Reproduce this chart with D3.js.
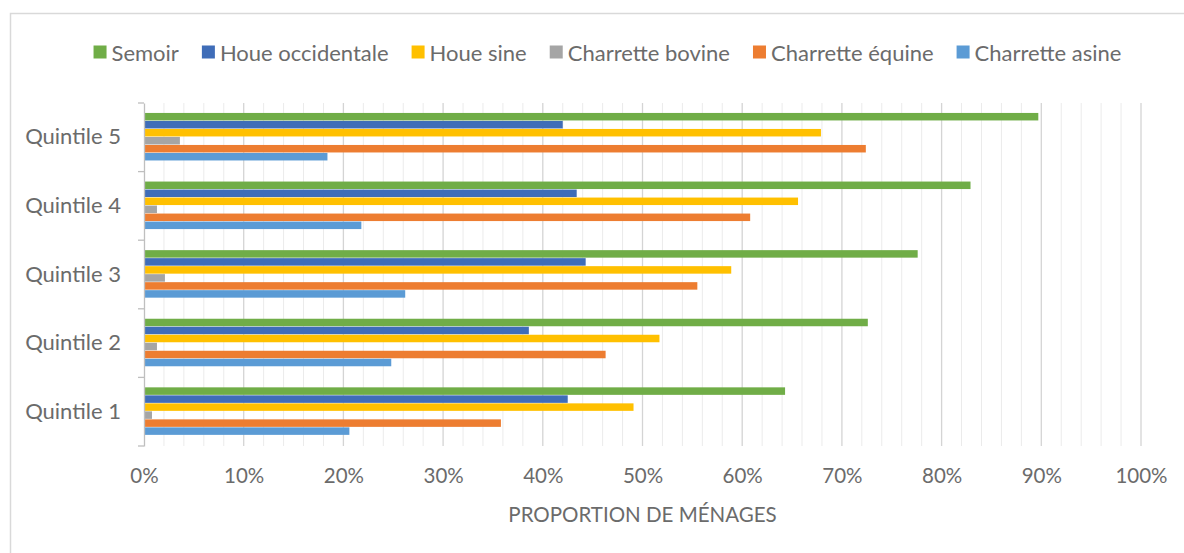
<!DOCTYPE html>
<html>
<head>
<meta charset="utf-8">
<script src="https://cdn.jsdelivr.net/npm/d3@7"></script>
<style>
  html, body { margin: 0; padding: 0; background: #fff; }
  svg { display: block; }
  text { font-family: Lato, "Open Sans", sans-serif; fill: #6b6b6b; }
</style>
</head>
<body>
<svg id="chart" width="1184" height="553"></svg>
<script>
// Quintiles, listed bottom to top as on the chart
const categories = ["Quintile 1", "Quintile 2", "Quintile 3", "Quintile 4", "Quintile 5"];

// Share of households (%) owning each implement, by quintile
const seriesNames = ["Semoir", "Houe occidentale", "Houe sine", "Charrette bovine", "Charrette équine", "Charrette asine"];
const semoir          = [64.3, 72.6, 77.6, 82.9, 89.7];
const houeOccidentale = [42.5, 38.6, 44.3, 43.4, 42.0];
const houeSine        = [49.1, 51.7, 58.9, 65.6, 67.9];
const charretteBovine = [0.8, 1.3, 2.1, 1.3, 3.6];
const charretteEquine = [35.8, 46.3, 55.5, 60.8, 72.4];
const charretteAsine  = [20.6, 24.8, 26.2, 21.8, 18.4];
const seriesColors = ["#70AD47", "#3F6DB8", "#FFC000", "#A5A5A5", "#ED7D31", "#5B9BD5"];

const xTicks = [0, 0.1, 0.2, 0.3, 0.4, 0.5, 0.6, 0.7, 0.8, 0.9, 1.0];
const xTitle = "PROPORTION DE MÉNAGES";

const seriesValues = [semoir, houeOccidentale, houeSine, charretteBovine, charretteEquine, charretteAsine];
const rows = categories.map((c, i) => ({
  category: c,
  values: seriesNames.map((s, j) => ({ series: s, value: seriesValues[j][i] / 100, color: seriesColors[j] }))
}));

const svg = d3.select("#chart");

// chart frame
svg.append("rect")
  .attr("x", 10.5).attr("y", 13.5).attr("width", 1200).attr("height", 600)
  .attr("fill", "none").attr("stroke", "#d9d9d9").attr("stroke-width", 1.5);

const plot = { left: 144, right: 1141, top: 103, bottom: 446 };

const x = d3.scaleLinear().domain([0, 1]).range([plot.left, plot.right]);
const y = d3.scaleBand()
  .domain(categories.slice().reverse())
  .range([plot.top, plot.bottom])
  .paddingInner(0).paddingOuter(0);
const inner = d3.scaleBand()
  .domain(seriesNames)
  .range([y.bandwidth() * 0.145, y.bandwidth() * 0.845])
  .padding(0);

// minor gridlines every 2 %
svg.append("g").selectAll("line")
  .data(d3.range(0, 1.0001, 0.02).filter(v => Math.round(v * 100) % 10 !== 0))
  .join("line")
  .attr("x1", d => x(d)).attr("x2", d => x(d))
  .attr("y1", plot.top).attr("y2", plot.bottom)
  .attr("stroke", "#ebebeb").attr("stroke-width", 1);

// major gridlines every 10 %
svg.append("g").selectAll("line")
  .data(xTicks.slice(1))
  .join("line")
  .attr("x1", d => x(d)).attr("x2", d => x(d))
  .attr("y1", plot.top).attr("y2", plot.bottom)
  .attr("stroke", "#d4d4d4").attr("stroke-width", 1.3);

// bars
const groups = svg.append("g").selectAll("g")
  .data(rows)
  .join("g")
  .attr("transform", d => `translate(0,${y(d.category)})`);
groups.selectAll("rect")
  .data(d => d.values)
  .join("rect")
  .attr("x", x(0))
  .attr("y", d => inner(d.series))
  .attr("width", d => x(d.value) - x(0))
  .attr("height", inner.bandwidth() - 0.5)
  .attr("fill", d => d.color);

// category axis with boundary tick marks
const yAxis = svg.append("g")
  .attr("transform", `translate(${plot.left},0)`)
  .call(d3.axisLeft(y).tickSize(0).tickPadding(23));
yAxis.select(".domain").attr("stroke", "#bfbfbf").attr("stroke-width", 1.3);
yAxis.selectAll("text").style("font-size", "22px").style("font-family", "Lato, sans-serif").attr("fill", "#6b6b6b");
svg.append("g").selectAll("line")
  .data(categories.map(c => y(c)).concat([plot.bottom]))
  .join("line")
  .attr("x1", plot.left - 6).attr("x2", plot.left)
  .attr("y1", d => d).attr("y2", d => d)
  .attr("stroke", "#bfbfbf").attr("stroke-width", 1.3);

// value axis labels
const xAxis = svg.append("g")
  .attr("transform", `translate(0,${plot.bottom})`)
  .call(d3.axisBottom(x).tickValues(xTicks).tickFormat(d3.format(".0%")).tickSize(0).tickPadding(22));
xAxis.select(".domain").remove();
xAxis.selectAll("text").style("font-size", "20.5px").style("font-family", "Lato, sans-serif").attr("fill", "#757575");

svg.append("text")
  .attr("x", (plot.left + plot.right) / 2)
  .attr("y", 514)
  .attr("text-anchor", "middle")
  .attr("dominant-baseline", "central")
  .style("font-size", "20.5px")
  .text(xTitle);

// legend, laid out left to right and centred
const legend = svg.append("g");
const items = legend.selectAll("g")
  .data(seriesNames.map((s, i) => ({ name: s, color: seriesColors[i] })))
  .join("g");
items.append("rect")
  .attr("width", 13).attr("height", 13).attr("y", -6.5)
  .attr("fill", d => d.color);
items.append("text")
  .attr("x", 18)
  .attr("dominant-baseline", "central")
  .style("font-size", "22px")
  .text(d => d.name);
let cursor = 0;
items.each(function () {
  const w = d3.select(this).select("text").node().getComputedTextLength();
  d3.select(this).attr("transform", `translate(${cursor},0)`);
  cursor += 18 + w + 23;
});
const totalW = cursor - 23;
legend.attr("transform", `translate(${607.5 - totalW / 2},52)`);
</script>
</body>
</html>
